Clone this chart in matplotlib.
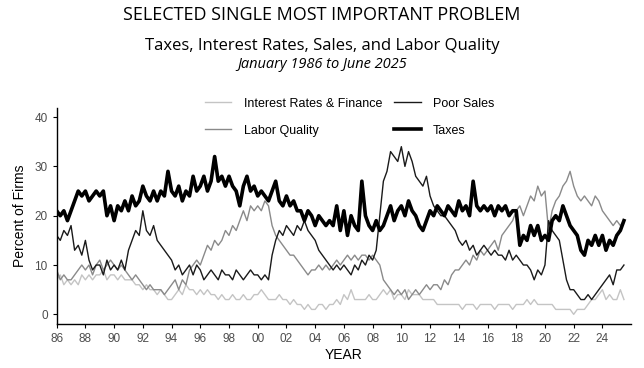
import matplotlib
matplotlib.use("Agg")
import matplotlib.pyplot as plt
import numpy as np

# quarterly readings, Jan 1986 .. Jun 2025 (Q1..Q4 per row)
taxes = [
    21, 20, 21, 19,  # 1986
    21, 23, 25, 24,  # 1987
    25, 23, 24, 25,  # 1988
    24, 25, 20, 22,  # 1989
    19, 22, 21, 23,  # 1990
    21, 24, 22, 23,  # 1991
    26, 24, 23, 25,  # 1992
    23, 25, 24, 29,  # 1993
    25, 24, 26, 23,  # 1994
    25, 24, 28, 25,  # 1995
    26, 28, 25, 27,  # 1996
    32, 27, 28, 26,  # 1997
    28, 26, 25, 22,  # 1998
    26, 28, 25, 26,  # 1999
    24, 25, 24, 23,  # 2000
    25, 27, 23, 22,  # 2001
    24, 22, 23, 21,  # 2002
    21, 19, 21, 20,  # 2003
    18, 20, 19, 18,  # 2004
    19, 18, 22, 17,  # 2005
    21, 16, 20, 18,  # 2006
    17, 27, 20, 18,  # 2007
    17, 19, 17, 18,  # 2008
    20, 22, 19, 21,  # 2009
    22, 20, 23, 21,  # 2010
    20, 18, 17, 19,  # 2011
    21, 20, 22, 21,  # 2012
    20, 22, 21, 20,  # 2013
    23, 21, 22, 20,  # 2014
    27, 22, 21, 22,  # 2015
    21, 22, 20, 22,  # 2016
    21, 22, 20, 21,  # 2017
    21, 14, 16, 15,  # 2018
    18, 16, 18, 15,  # 2019
    16, 15, 19, 20,  # 2020
    19, 22, 20, 18,  # 2021
    17, 16, 13, 12,  # 2022
    15, 14, 16, 14,  # 2023
    16, 13, 15, 14,  # 2024
    16, 17, 19,      # 2025
]

poor_sales = [
    16, 15, 17, 16,  # 1986
    18, 13, 14, 12,  # 1987
    15, 11, 9, 10,   # 1988
    10, 8, 11, 9,    # 1989
    10, 9, 11, 9,    # 1990
    13, 15, 17, 16,  # 1991
    21, 17, 16, 18,  # 1992
    15, 14, 13, 12,  # 1993
    11, 9, 10, 8,    # 1994
    9, 10, 8, 10,    # 1995
    9, 7, 8, 9,      # 1996
    8, 7, 9, 8,      # 1997
    8, 7, 9, 8,      # 1998
    7, 8, 9, 8,      # 1999
    8, 7, 8, 7,      # 2000
    12, 15, 17, 16,  # 2001
    18, 17, 16, 18,  # 2002
    17, 19, 17, 16,  # 2003
    15, 13, 12, 11,  # 2004
    10, 9, 10, 9,    # 2005
    10, 9, 8, 10,    # 2006
    9, 11, 10, 12,   # 2007
    11, 13, 20, 27,  # 2008
    29, 33, 32, 31,  # 2009
    34, 30, 33, 31,  # 2010
    28, 27, 26, 28,  # 2011
    24, 22, 21, 20,  # 2012
    20, 19, 18, 17,  # 2013
    15, 14, 15, 13,  # 2014
    14, 12, 13, 14,  # 2015
    13, 12, 13, 12,  # 2016
    12, 11, 13, 11,  # 2017
    12, 11, 10, 10,  # 2018
    9, 7, 9, 8,      # 2019
    10, 19, 17, 16,  # 2020
    15, 11, 7, 5,    # 2021
    5, 4, 3, 3,      # 2022
    4, 3, 4, 5,      # 2023
    6, 7, 8, 6,      # 2024
    9, 9, 10,        # 2025
]

labor_quality = [
    9, 7, 8, 7,      # 1986
    7, 8, 9, 10,     # 1987
    9, 10, 8, 10,    # 1988
    11, 9, 10, 11,   # 1989
    10, 9, 10, 9,    # 1990
    8, 7, 8, 7,      # 1991
    6, 5, 6, 5,      # 1992
    5, 5, 4, 5,      # 1993
    6, 7, 5, 7,      # 1994
    6, 9, 10, 11,    # 1995
    10, 12, 14, 13,  # 1996
    15, 14, 15, 17,  # 1997
    16, 18, 17, 19,  # 1998
    21, 19, 22, 21,  # 1999
    22, 21, 23, 22,  # 2000
    18, 16, 15, 14,  # 2001
    13, 12, 12, 11,  # 2002
    10, 9, 8, 9,     # 2003
    9, 10, 9, 10,    # 2004
    9, 10, 11, 10,   # 2005
    11, 12, 11, 12,  # 2006
    11, 12, 12, 11,  # 2007
    12, 11, 10, 7,   # 2008
    6, 5, 4, 5,      # 2009
    4, 5, 3, 4,      # 2010
    5, 4, 5, 6,      # 2011
    5, 6, 6, 5,      # 2012
    7, 6, 8, 9,      # 2013
    9, 10, 11, 10,   # 2014
    12, 11, 13, 12,  # 2015
    13, 14, 15, 13,  # 2016
    16, 17, 18, 19,  # 2017
    21, 22, 20, 22,  # 2018
    24, 23, 26, 24,  # 2019
    25, 17, 21, 23,  # 2020
    24, 26, 27, 29,  # 2021
    26, 24, 23, 24,  # 2022
    23, 22, 24, 23,  # 2023
    21, 20, 19, 18,  # 2024
    19, 18, 19,      # 2025
]

interest_rates = [
    7, 8, 6, 7,      # 1986
    6, 7, 6, 8,      # 1987
    7, 8, 7, 8,      # 1988
    8, 9, 7, 8,      # 1989
    8, 7, 8, 7,      # 1990
    7, 7, 6, 6,      # 1991
    5, 6, 5, 5,      # 1992
    4, 5, 4, 3,      # 1993
    3, 4, 5, 4,      # 1994
    6, 5, 5, 4,      # 1995
    5, 4, 5, 4,      # 1996
    4, 3, 4, 3,      # 1997
    3, 4, 3, 3,      # 1998
    4, 3, 3, 4,      # 1999
    4, 5, 4, 3,      # 2000
    3, 3, 4, 3,      # 2001
    3, 2, 3, 2,      # 2002
    2, 1, 2, 1,      # 2003
    1, 2, 2, 1,      # 2004
    2, 2, 3, 2,      # 2005
    4, 3, 5, 3,      # 2006
    3, 3, 3, 4,      # 2007
    3, 3, 4, 5,      # 2008
    4, 5, 3, 4,      # 2009
    4, 3, 5, 4,      # 2010
    4, 4, 3, 3,      # 2011
    3, 3, 2, 2,      # 2012
    2, 2, 2, 2,      # 2013
    2, 1, 2, 2,      # 2014
    2, 1, 2, 2,      # 2015
    2, 2, 1, 2,      # 2016
    2, 2, 2, 1,      # 2017
    2, 2, 2, 3,      # 2018
    2, 3, 2, 2,      # 2019
    2, 2, 2, 1,      # 2020
    1, 1, 1, 1,      # 2021
    0, 1, 1, 1,      # 2022
    2, 3, 3, 4,      # 2023
    5, 3, 4, 3,      # 2024
    3, 5, 3,         # 2025
]

year_ticks = list(range(1986, 2025, 2))
tick_labels = ["%02d" % (y % 100) for y in year_ticks]

t = 1986 + np.arange(len(taxes)) / 4.0

plt.rcParams['font.family'] = ['Liberation Sans', 'DejaVu Sans']

fig = plt.figure(figsize=(6.44, 3.68), dpi=100)
ax = fig.add_axes([0.088, 0.119, 0.892, 0.587])

l_ir, = ax.plot(t, interest_rates, color='#c4c4c4', lw=1.0, label='Interest Rates & Finance')
l_lq, = ax.plot(t, labor_quality, color='#8a8a8a', lw=1.0, label='Labor Quality')
l_ps, = ax.plot(t, poor_sales, color='#1a1a1a', lw=1.0, label='Poor Sales')
l_tx, = ax.plot(t, taxes, color='black', lw=2.6, label='Taxes')

ax.set_xlim(1986, 2026)
ax.set_ylim(-2, 41.8)
ax.set_xticks(year_ticks)
ax.set_xticklabels(tick_labels)
ax.set_yticks([0, 10, 20, 30, 40])
ax.tick_params(labelsize=8.5, labelcolor='#4d4d4d', color='black', length=3, width=0.8)
for s in ['top', 'right']:
    ax.spines[s].set_visible(False)
for s in ['left', 'bottom']:
    ax.spines[s].set_linewidth(1.0)
ax.set_xlabel('YEAR', fontsize=10, labelpad=2)
ax.set_ylabel('Percent of Firms', fontsize=10, labelpad=5)

fig.legend(handles=[l_ir, l_lq, l_ps, l_tx], loc='center', ncol=2,
           bbox_to_anchor=(0.543, 0.682), frameon=False, fontsize=9,
           handlelength=2.1, handletextpad=1.0, columnspacing=1.0,
           labelspacing=1.2)

fig.text(0.5, 1 - 15 / 368, 'SELECTED SINGLE MOST IMPORTANT PROBLEM',
         ha='center', va='center', fontsize=13, family='Open Sans')
fig.text(0.5, 1 - 46 / 368, 'Taxes, Interest Rates, Sales, and Labor Quality',
         ha='center', va='center', fontsize=12, family='Open Sans')
fig.text(0.5, 1 - 64 / 368, 'January 1986 to June 2025',
         ha='center', va='center', fontsize=10.5, family='Open Sans', style='italic')

fig.savefig('out.png', dpi=100)
